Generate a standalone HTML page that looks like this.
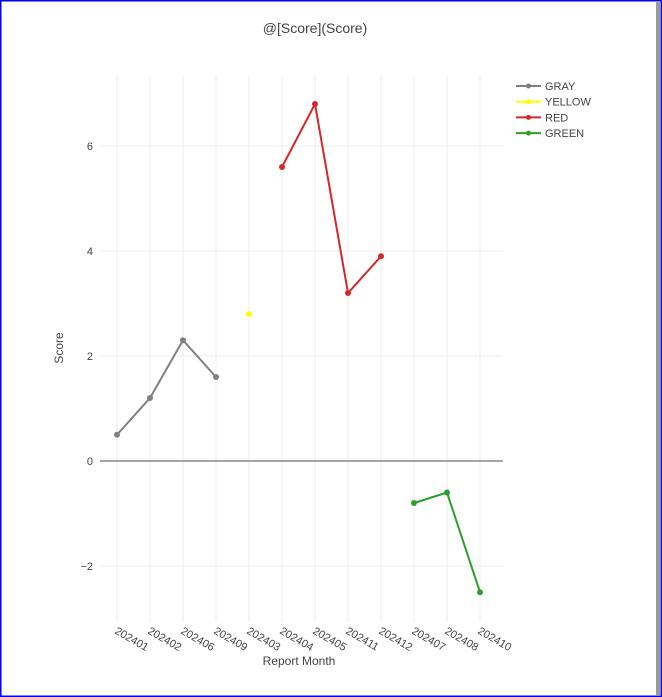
<!DOCTYPE html>
<html><head><meta charset="utf-8"><style>
html,body{margin:0;padding:0;background:#fff}
svg{display:block;font-family:"Liberation Sans",Arial,sans-serif}
</style></head><body>
<svg width="662" height="697">
<rect x="0.5" y="0.5" width="661" height="696" fill="#fff" stroke="#0000ff" stroke-width="2"/>
<rect x="656" y="1" width="4" height="695" fill="#999"/>
<text x="315" y="33" text-anchor="middle" font-size="14" fill="#444">@[Score](Score)</text>
<g id="grid"></g><g id="series"></g><g id="axes"></g>
<text x="299" y="665" text-anchor="middle" font-size="12" fill="#444">Report Month</text>
<text transform="translate(63,348) rotate(-90)" text-anchor="middle" font-size="12" fill="#444">Score</text>
<g id="legend"></g>
</svg>
<script>
const categories=["202401","202402","202406","202409","202403","202404","202405","202411","202412","202407","202408","202410"];
const seriesNames=["GRAY","YELLOW","RED","GREEN"];
const seriesColors=["#808080","#ffff00","#d62728","#2ca02c"];
const grayX=["202401","202402","202406","202409"], grayY=[0.5,1.2,2.3,1.6];
const yellowX=["202403"], yellowY=[2.8];
const redX=["202404","202405","202411","202412"], redY=[5.6,6.8,3.2,3.9];
const greenX=["202407","202408","202410"], greenY=[-0.8,-0.6,-2.5];
const yTicks=[-2,0,2,4,6];
const NS="http://www.w3.org/2000/svg";
const xs=c=>117+categories.indexOf(c)*33;
const ys=v=>461-v*52.5;
function mk(t,a,p){const e=document.createElementNS(NS,t);for(const k in a)e.setAttribute(k,a[k]);p.appendChild(e);return e;}
const grid=document.getElementById('grid'),axes=document.getElementById('axes'),ser=document.getElementById('series'),leg=document.getElementById('legend');
categories.forEach(c=>{
 const l=mk('line',{x1:xs(c),x2:xs(c),y1:75,y2:622,stroke:'#eee'},grid);
 
 
 const t=mk('text',{transform:`translate(${xs(c)-3},${633}) rotate(30)`,'font-size':11,fill:'#444'},axes);
 t.textContent=c;
 
 
});
yTicks.forEach(v=>{
 const l=mk('line',{x1:100,x2:503,y1:ys(v),y2:ys(v),stroke:v===0?'#888':'#eee','stroke-width':v===0?1.5:1},grid);
 
 
 const t=mk('text',{x:93,y:ys(v)+4,'text-anchor':'end','font-size':11,fill:'#444'},axes);
 t.textContent=v<0?'\u2212'+(-v):String(v);
 
 
});
const all=[[grayX,grayY],[yellowX,yellowY],[redX,redY],[greenX,greenY]];
all.forEach(([X,Y],i)=>{
 const g=mk('g',{},ser);
 
 
 if(X.length>1){
  const p=mk('polyline',{points:X.map((c,j)=>xs(c)+','+ys(Y[j])).join(' '),fill:'none',stroke:seriesColors[i],'stroke-width':2},g);
  
  
 }
 X.forEach((c,j)=>{
  const d=mk('circle',{cx:xs(c),cy:ys(Y[j]),r:3,fill:seriesColors[i]},g);
  
  
 });
 const ly=86+i*15.7;
 const e=mk('g',{},leg);
 
 
 mk('line',{x1:516,x2:541,y1:ly,y2:ly,stroke:seriesColors[i],'stroke-width':2},e);
 mk('circle',{cx:528.5,cy:ly,r:2.5,fill:seriesColors[i]},e);
 const t=mk('text',{x:545,y:ly+4,'font-size':11,fill:'#444'},e);
 t.textContent=seriesNames[i];
});
</script>
</body></html>
